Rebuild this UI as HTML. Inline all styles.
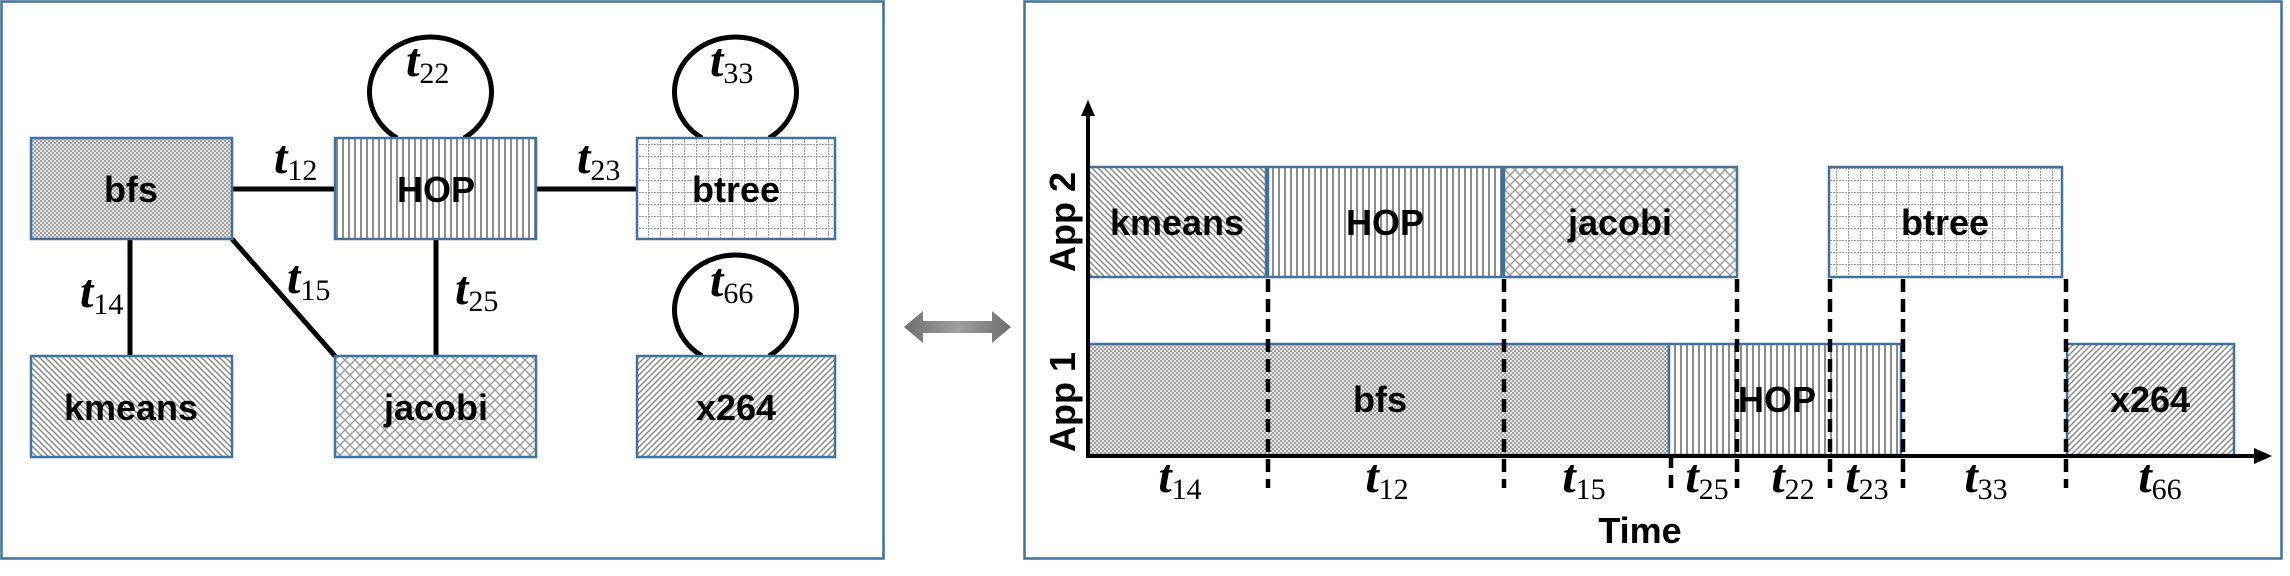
<!DOCTYPE html>
<html><head><meta charset="utf-8"><style>
html,body{margin:0;padding:0;background:#fff;}
svg{display:block;}
.lb{font-family:"Liberation Sans",sans-serif;font-weight:bold;font-size:36px;fill:#000;}
.tt{font-family:"Liberation Serif",serif;font-weight:bold;font-style:italic;font-size:48px;fill:#000;}
.ts{font-family:"Liberation Serif",serif;font-style:normal;font-weight:normal;font-size:30px;}
</style></head><body>
<svg width="2290" height="576" viewBox="0 0 2290 576" xmlns="http://www.w3.org/2000/svg">
<defs>
<pattern id="pBfs" width="4" height="4" patternUnits="userSpaceOnUse">
<rect width="4" height="4" fill="#e4e4e4"/><rect width="2" height="2" fill="#a0a0a0"/><rect x="2" y="2" width="2" height="2" fill="#a0a0a0"/>
</pattern>
<pattern id="pHop" width="6" height="6" patternUnits="userSpaceOnUse">
<rect width="6" height="6" fill="#fff"/><rect x="0" width="2" height="6" fill="#8c8c8c"/>
</pattern>
<pattern id="pDiag" width="6" height="6" patternUnits="userSpaceOnUse">
<rect width="6" height="6" fill="#fff"/><path d="M0 0L6 6M-3 3L3 9M3 -3L9 3" stroke="#8c8c8c" stroke-width="1.5"/>
</pattern>
<pattern id="pDiag2" width="6" height="6" patternUnits="userSpaceOnUse">
<rect width="6" height="6" fill="#fff"/><path d="M0 6L6 0M-3 3L3 -3M3 9L9 3" stroke="#8c8c8c" stroke-width="1.5"/>
</pattern>
<pattern id="pJac" width="10" height="10" patternUnits="userSpaceOnUse">
<rect width="10" height="10" fill="#fff"/><path d="M0 5L5 0L10 5L5 10Z" fill="none" stroke="#9a9a9a" stroke-width="1.4"/>
</pattern>
<pattern id="pBt" width="12" height="12" patternUnits="userSpaceOnUse">
<rect width="12" height="12" fill="#fff"/><path d="M0 0.5H12M0.5 0V12" stroke="#9a9a9a" stroke-width="1" stroke-dasharray="2 1"/>
</pattern>
<linearGradient id="gArr" x1="0" x2="1"><stop offset="0" stop-color="#6e6e6e"/><stop offset="0.5" stop-color="#a0a0a0"/><stop offset="1" stop-color="#6e6e6e"/></linearGradient>
</defs>

<!-- LEFT PANEL -->
<rect x="1.5" y="1.5" width="882" height="557" fill="none" stroke="#41719c" stroke-width="2.5"/>
<g stroke="#000" stroke-width="5" fill="none">
<line x1="232" y1="189" x2="335" y2="189"/>
<line x1="536" y1="189" x2="637" y2="189"/>
<line x1="130" y1="239" x2="130" y2="356"/>
<line x1="232" y1="239" x2="335" y2="356"/>
<line x1="436" y1="239" x2="436" y2="356"/>
<path d="M397 138 A61 55 0 1 1 464 138"/>
<path d="M702 138 A61 55 0 1 1 769 138"/>
<path d="M702 356 A61 55 0 1 1 769 356"/>
</g>
<g stroke="#41719c" stroke-width="2.5">
<rect x="31" y="138" width="201" height="101" fill="url(#pBfs)"/>
<rect x="335" y="138" width="201" height="101" fill="url(#pHop)"/>
<rect x="637" y="138" width="198" height="101" fill="url(#pBt)"/>
<rect x="31" y="356" width="201" height="101" fill="url(#pDiag)"/>
<rect x="335" y="356" width="201" height="101" fill="url(#pJac)"/>
<rect x="637" y="356" width="198" height="101" fill="url(#pDiag2)"/>
</g>
<g class="lb" text-anchor="middle">
<text x="131" y="202">bfs</text>
<text x="436" y="202">HOP</text>
<text x="736" y="202">btree</text>
<text x="131" y="420">kmeans</text>
<text x="436" y="420">jacobi</text>
<text x="736" y="420">x264</text>
</g>
<g class="tt">
<text x="406" y="76">t<tspan class="ts" dy="7">22</tspan></text>
<text x="710" y="76">t<tspan class="ts" dy="7">33</tspan></text>
<text x="710" y="296">t<tspan class="ts" dy="7">66</tspan></text>
<text x="274" y="173">t<tspan class="ts" dy="7">12</tspan></text>
<text x="577" y="173">t<tspan class="ts" dy="7">23</tspan></text>
<text x="80" y="307">t<tspan class="ts" dy="7">14</tspan></text>
<text x="287" y="293">t<tspan class="ts" dy="7">15</tspan></text>
<text x="455" y="304">t<tspan class="ts" dy="7">25</tspan></text>
</g>

<!-- double arrow -->
<path d="M904 327 L923 311 L923 321 L992 321 L992 311 L1011 327 L992 343 L992 333 L923 333 L923 343 Z" fill="url(#gArr)"/>

<!-- RIGHT PANEL -->
<rect x="1024.5" y="1.5" width="1257" height="557" fill="none" stroke="#41719c" stroke-width="2.5"/>
<g stroke="#41719c" stroke-width="2.5">
<rect x="1088" y="167" width="178" height="110" fill="url(#pDiag)"/>
<rect x="1268" y="167" width="234" height="110" fill="url(#pHop)"/>
<rect x="1504" y="167" width="233" height="110" fill="url(#pJac)"/>
<rect x="1829" y="167" width="233" height="110" fill="url(#pBt)"/>
<rect x="1088" y="344" width="581" height="111" fill="url(#pBfs)"/>
<rect x="1669" y="344" width="232" height="111" fill="url(#pHop)"/>
<rect x="2067" y="344" width="167" height="111" fill="url(#pDiag2)"/>
</g>
<g stroke="#000" stroke-width="4.5" stroke-dasharray="13 7" fill="none">
<line x1="1268" y1="279" x2="1268" y2="488"/>
<line x1="1504" y1="279" x2="1504" y2="488"/>
<line x1="1737" y1="279" x2="1737" y2="488"/>
<line x1="1830" y1="279" x2="1830" y2="488"/>
<line x1="1903" y1="279" x2="1903" y2="488"/>
<line x1="2066" y1="279" x2="2066" y2="488"/>
<line x1="1671" y1="455" x2="1671" y2="488"/>
</g>
<g stroke="#000" stroke-width="4" fill="none">
<line x1="1088" y1="457" x2="1088" y2="112"/>
<line x1="1086" y1="456" x2="2258" y2="456"/>
</g>
<path d="M1088 100 L1081 116 L1095 116 Z" fill="#000"/>
<path d="M2272 456 L2254 448 L2254 464 Z" fill="#000"/>
<g class="lb" text-anchor="middle">
<text x="1177" y="235">kmeans</text>
<text x="1385" y="235">HOP</text>
<text x="1620" y="235">jacobi</text>
<text x="1945" y="235">btree</text>
<text x="1380" y="412">bfs</text>
<text x="1777" y="412">HOP</text>
<text x="2150" y="412">x264</text>
<text x="1640" y="543">Time</text>
<text transform="translate(1075,222) rotate(-90)">App 2</text>
<text transform="translate(1075,402) rotate(-90)">App 1</text>
</g>
<g class="tt" text-anchor="middle">
<text x="1180" y="492">t<tspan class="ts" dy="7">14</tspan></text>
<text x="1387" y="492">t<tspan class="ts" dy="7">12</tspan></text>
<text x="1584" y="492">t<tspan class="ts" dy="7">15</tspan></text>
<text x="1707" y="492">t<tspan class="ts" dy="7">25</tspan></text>
<text x="1793" y="492">t<tspan class="ts" dy="7">22</tspan></text>
<text x="1867" y="492">t<tspan class="ts" dy="7">23</tspan></text>
<text x="1986" y="492">t<tspan class="ts" dy="7">33</tspan></text>
<text x="2160" y="492">t<tspan class="ts" dy="7">66</tspan></text>
</g>
</svg>
</body></html>
